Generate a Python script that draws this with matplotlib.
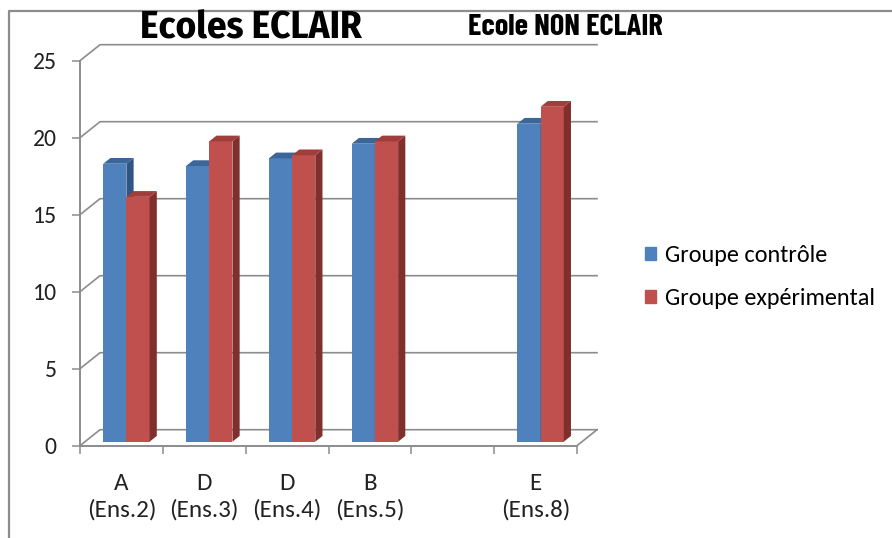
import matplotlib
matplotlib.use("Agg")
import matplotlib.pyplot as plt
from matplotlib.patches import Polygon, Patch
from matplotlib.lines import Line2D

# Data
categories = ["A\n(Ens.2)", "D\n(Ens.3)", "D\n(Ens.4)", "B\n(Ens.5)", "", "E\n(Ens.8)"]
controle = [18.05, 17.9, 18.4, 19.35, None, 20.65]
experimental = [15.9, 19.5, 18.6, 19.5, None, 21.75]
series_names = ["Groupe contrôle", "Groupe expérimental"]
y_ticks = [0, 5, 10, 15, 20, 25]
titles = ["Ecoles ECLAIR", "Ecole NON ECLAIR"]

# Excel-like colours: front, top, side
blue = ("#4F81BD", "#3B6699", "#2F5583")
red = ("#C0504D", "#A03E3B", "#7F302D")
grey = "#8C8C8C"
font = ["Carlito", "Lato", "DejaVu Sans"]

W, H = 892, 538
fig = plt.figure(figsize=(W / 100, H / 100), dpi=100)
ax = fig.add_axes([80 / W, (H - 445.7) / H, 497 / W, 385 / H])
n = len(categories)
ax.set_xlim(0, n)
ax.set_ylim(0, 25)

# depth of the fake 3D box, in data units
DX = 20 / 497 * n
DV = 16 / 385 * 25
front = 0.25     # depth of bar front faces
bar_depth = 0.36
w = 0.28


def draw_bar(x, val, cols, z):
    b = front * DV
    ax.bar(x, val, width=w, bottom=b, align="edge", color=cols[0],
           linewidth=0, zorder=z)
    ox, oy = bar_depth * DX, bar_depth * DV
    top = [(x, b + val), (x + w, b + val), (x + w + ox, b + val + oy), (x + ox, b + val + oy)]
    side = [(x + w, b), (x + w + ox, b + oy), (x + w + ox, b + val + oy), (x + w, b + val)]
    ax.add_patch(Polygon(top, closed=True, color=cols[1], lw=0, zorder=z, clip_on=False))
    ax.add_patch(Polygon(side, closed=True, color=cols[2], lw=0, zorder=z, clip_on=False))


for i in range(n):
    c = i + 0.5 + front * DX
    if controle[i] is not None:
        draw_bar(c - w, controle[i], blue, 3)
    if experimental[i] is not None:
        draw_bar(c, experimental[i], red, 4)

# back wall gridlines with their diagonals
for v in y_ticks:
    ax.plot([0, DX, n + DX], [v, v + DV, v + DV], color=grey, lw=1.2,
            clip_on=False, zorder=1)
ax.plot([n, n + DX], [0, DV], color=grey, lw=1.2, clip_on=False, zorder=1)

for s in ["top", "right"]:
    ax.spines[s].set_visible(False)
for s in ["left", "bottom"]:
    ax.spines[s].set_color(grey)
    ax.spines[s].set_linewidth(1.4)

ax.set_yticks(y_ticks)
ax.tick_params(axis="y", direction="out", length=5.8, width=1.1, color=grey,
               pad=11, labelsize=17, labelcolor="#222222")
ax.set_xticks(range(n + 1))
ax.set_xticklabels([])
ax.set_xticks([i + 0.5 for i in range(n)], minor=True)
ax.set_xticklabels(categories, minor=True, linespacing=1.28)
ax.tick_params(axis="x", which="major", direction="out", length=5.8, width=1.1, color=grey)
ax.tick_params(axis="x", which="minor", length=0, pad=20, labelsize=18, labelcolor="#222222")
for lab in ax.get_xticklabels(minor=True) + ax.get_yticklabels():
    lab.set_family(font)

# titles
fig.text(251 / W, 1 - 28 / H, titles[0], ha="center", va="center", fontsize=28,
         fontweight="bold", family=["Fira Sans Condensed", "DejaVu Sans"])
fig.text(565 / W, 1 - 28 / H, titles[1], ha="center", va="center", fontsize=22,
         fontweight="bold", family=["Barlow Condensed", "DejaVu Sans"])

# outer chart border (only left and top visible)
fig.add_artist(Line2D([9 / W, 9 / W, 1], [0, 1 - 11 / H, 1 - 11 / H],
                      transform=fig.transFigure, color=grey, lw=1.6))

handles = [Patch(color=blue[0]), Patch(color=red[0])]
fig.legend(handles, series_names, loc="center left",
           bbox_to_anchor=(645 / W, 1 - 277 / H), frameon=False,
           prop={"family": font, "size": 17.5}, handlelength=0.47, handleheight=0.47,
           handletextpad=0.34, labelspacing=0.9, borderpad=0, borderaxespad=0)

fig.savefig("out.png", dpi=100)
